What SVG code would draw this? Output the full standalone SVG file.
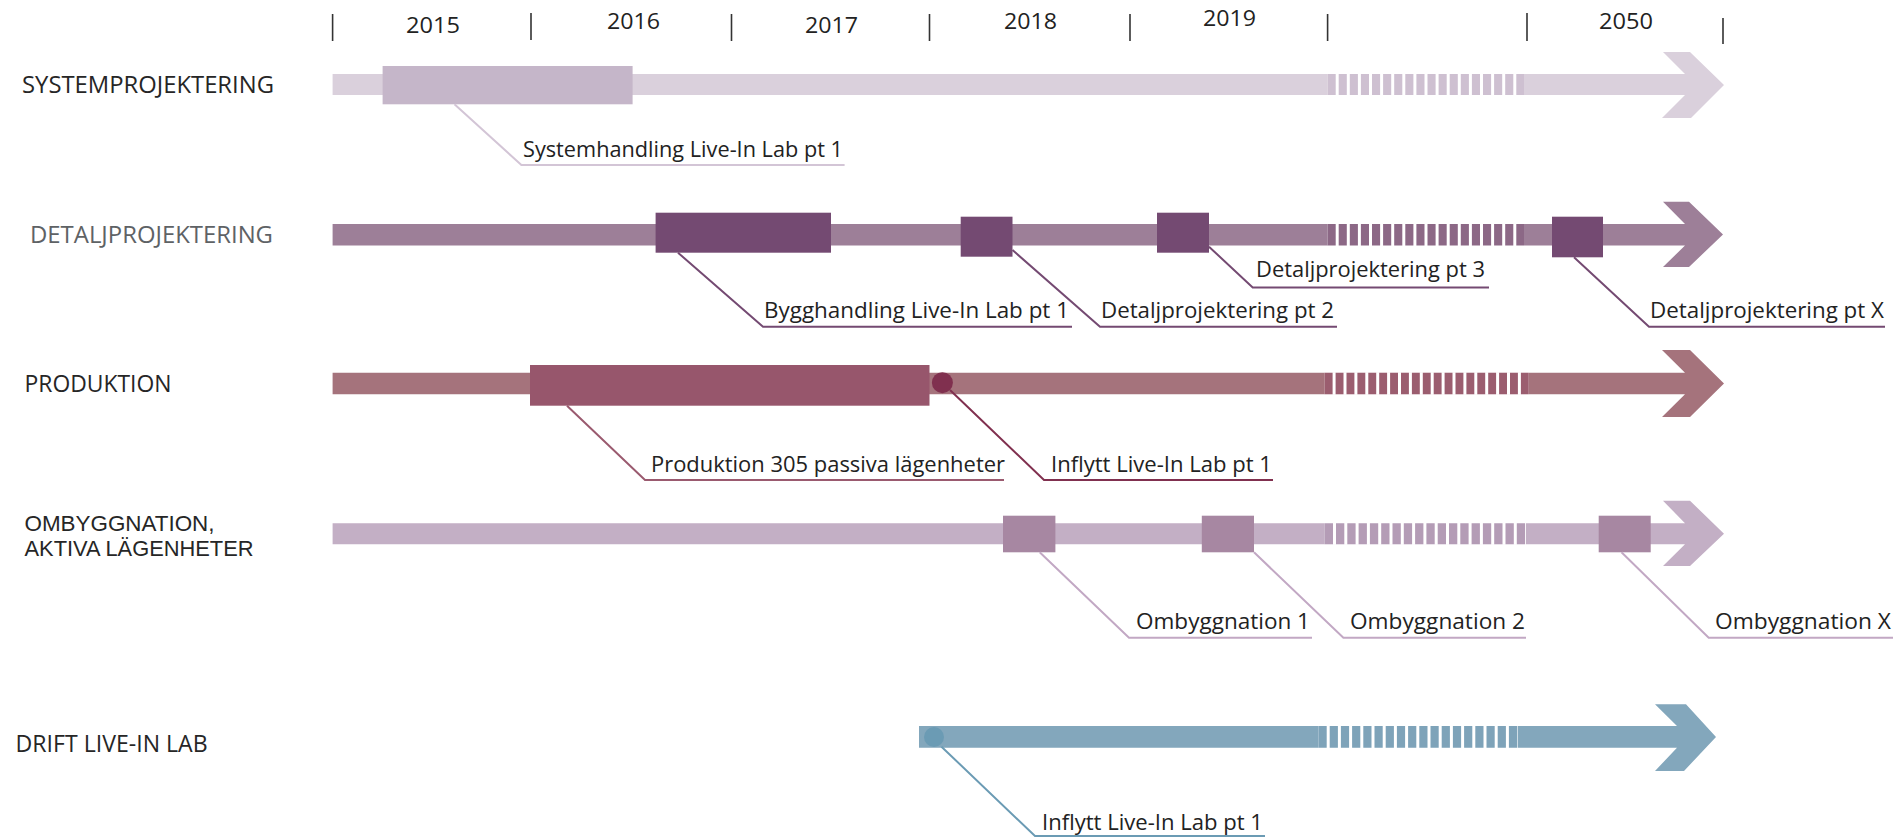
<svg xmlns="http://www.w3.org/2000/svg" width="1901" height="838" viewBox="0 0 1901 838">
<style>
text{font-family:"Open Sans","Liberation Sans",sans-serif;fill:#222}
.yr{font-size:21px}
.cat{font-size:24px;fill:#262626}
.cat2{font-family:"Liberation Sans",Arial,sans-serif;font-size:22px;fill:#262626}
.lbl{font-size:22px}
.tick{stroke:#333;stroke-width:1.6}
.ld{fill:none;stroke-width:2}
.gap{fill:#fff}
</style>
<rect width="1901" height="838" fill="#fff"/>
<g id="axis">
<line class="tick" x1="332.6" y1="14" x2="332.6" y2="41"/>
<line class="tick" x1="531" y1="13" x2="531" y2="40"/>
<line class="tick" x1="731.5" y1="14" x2="731.5" y2="41"/>
<line class="tick" x1="929.5" y1="14" x2="929.5" y2="41"/>
<line class="tick" x1="1130" y1="14" x2="1130" y2="41"/>
<line class="tick" x1="1327.6" y1="14" x2="1327.6" y2="41"/>
<line class="tick" x1="1527" y1="13" x2="1527" y2="41"/>
<line class="tick" x1="1723" y1="18" x2="1723" y2="44"/>
<text class="yr" x="406" y="33.3" textLength="54" lengthAdjust="spacingAndGlyphs">2015</text>
<text class="yr" x="607" y="29.3" textLength="53" lengthAdjust="spacingAndGlyphs">2016</text>
<text class="yr" x="805" y="33.3" textLength="53" lengthAdjust="spacingAndGlyphs">2017</text>
<text class="yr" x="1004" y="29.3" textLength="53" lengthAdjust="spacingAndGlyphs">2018</text>
<text class="yr" x="1203" y="26" textLength="53" lengthAdjust="spacingAndGlyphs">2019</text>
<text class="yr" x="1599" y="29.3" textLength="54" lengthAdjust="spacingAndGlyphs">2050</text>
</g>

<g id="row-systemprojektering">
<text class="cat" x="22" y="93" textLength="252" lengthAdjust="spacingAndGlyphs">SYSTEMPROJEKTERING</text>
<polygon fill="#dad0dc" points="332.6,74 1685,74 1663,52 1690,52 1724,85 1691,118 1662,118 1685,95 332.6,95"/>
<rect class="gap" x="1327.6" y="73.5" width="196.4" height="22"/>
<line x1="1327.6" y1="84.5" x2="1524" y2="84.5" stroke="#cec0d1" stroke-width="21" stroke-dasharray="8.1 3"/>
</g>
<g id="node-systemhandling">
<rect x="382.6" y="66" width="250" height="38.3" fill="#c5b6c9"/>
<text class="lbl" x="523" y="156.7" textLength="320" lengthAdjust="spacingAndGlyphs">Systemhandling Live-In Lab pt 1</text>
</g>

<g id="row-detaljprojektering">
<text class="cat" x="30" y="243" textLength="243" lengthAdjust="spacingAndGlyphs" style="fill:#5e6265">DETALJPROJEKTERING</text>
<polygon fill="#9d7f98" points="332.6,224 1685,224 1663,201.7 1689,201.7 1723,234.5 1689,267 1663,267 1685,245.5 332.6,245.5"/>
<rect class="gap" x="1327.6" y="223.5" width="196.4" height="22.5"/>
<line x1="1327.6" y1="234.75" x2="1524" y2="234.75" stroke="#8c6886" stroke-width="21.5" stroke-dasharray="8.1 3"/>
</g>
<g id="node-bygghandling">
<rect x="655.6" y="212.7" width="175.4" height="40" fill="#744a72"/>
<text class="lbl" x="764" y="318.3" textLength="305" lengthAdjust="spacingAndGlyphs">Bygghandling Live-In Lab pt 1</text>
</g>
<g id="node-detalj2">
<rect x="960.7" y="216.7" width="51.8" height="40" fill="#744a72"/>
<text class="lbl" x="1101" y="318.3" textLength="233" lengthAdjust="spacingAndGlyphs">Detaljprojektering pt 2</text>
</g>
<g id="node-detalj3">
<rect x="1157" y="212.7" width="52" height="40" fill="#744a72"/>
<text class="lbl" x="1256" y="276.7" textLength="229" lengthAdjust="spacingAndGlyphs">Detaljprojektering pt 3</text>
</g>
<g id="node-detaljX">
<rect x="1552" y="216.7" width="51" height="40.6" fill="#744a72"/>
<text class="lbl" x="1650" y="318.3" textLength="234" lengthAdjust="spacingAndGlyphs">Detaljprojektering pt X</text>
</g>

<g id="row-produktion">
<text class="cat" x="24.5" y="392" textLength="147" lengthAdjust="spacingAndGlyphs">PRODUKTION</text>
<polygon fill="#a5737c" points="332.6,372.7 1685,372.7 1662,350 1690,350 1724,383.5 1690,417 1662,417 1685,394.3 332.6,394.3"/>
<rect class="gap" x="1324.7" y="372.2" width="204.3" height="22.6"/>
<line x1="1324.7" y1="383.5" x2="1529" y2="383.5" stroke="#9b5d6f" stroke-width="21.6" stroke-dasharray="7.9 3"/>
</g>
<g id="node-produktion305">
<rect x="530" y="365" width="399.5" height="40.7" fill="#97566c"/>
<text class="lbl" x="651" y="472.3" textLength="354" lengthAdjust="spacingAndGlyphs">Produktion 305 passiva lägenheter</text>
</g>
<g id="node-inflytt-prod">
<circle cx="942.4" cy="382.7" r="10.5" fill="#80304f"/>
<text class="lbl" x="1051" y="472.3" textLength="221" lengthAdjust="spacingAndGlyphs">Inflytt Live-In Lab pt 1</text>
</g>

<g id="row-ombyggnation">
<text class="cat2"><tspan x="24.5" y="531" textLength="190" lengthAdjust="spacingAndGlyphs">OMBYGGNATION,</tspan><tspan x="24.5" y="556" textLength="229" lengthAdjust="spacingAndGlyphs">AKTIVA LÄGENHETER</tspan></text>
<polygon fill="#c3afc5" points="332.6,523.3 1685,523.3 1663,500.7 1690,500.7 1724,533.8 1690,566 1663,566 1685,544.3 332.6,544.3"/>
<rect class="gap" x="1324.7" y="522.8" width="201.3" height="22"/>
<line x1="1324.7" y1="533.8" x2="1526" y2="533.8" stroke="#b49cb6" stroke-width="21" stroke-dasharray="8.3 3"/>
</g>
<g id="node-ombyggnation1">
<rect x="1003" y="515.7" width="52.4" height="36.6" fill="#a787a2"/>
<text class="lbl" x="1136" y="629.3" textLength="174" lengthAdjust="spacingAndGlyphs">Ombyggnation 1</text>
</g>
<g id="node-ombyggnation2">
<rect x="1201.8" y="515.7" width="52.2" height="36.6" fill="#a787a2"/>
<text class="lbl" x="1350" y="629.3" textLength="175" lengthAdjust="spacingAndGlyphs">Ombyggnation 2</text>
</g>
<g id="node-ombyggnationX">
<rect x="1598.7" y="515.7" width="52" height="36.6" fill="#a787a2"/>
<text class="lbl" x="1715" y="629.3" textLength="176" lengthAdjust="spacingAndGlyphs">Ombyggnation X</text>
</g>

<g id="row-drift">
<text class="cat" x="15.6" y="752" textLength="192" lengthAdjust="spacingAndGlyphs">DRIFT LIVE-IN LAB</text>
<polygon fill="#83a7bc" points="919,726 1677,726 1655,704.3 1686,704.3 1716,737 1684,771 1655,771 1677,747.7 919,747.7"/>
<rect class="gap" x="1318.5" y="725.5" width="199.2" height="22.7"/>
<line x1="1318.5" y1="736.85" x2="1517.7" y2="736.85" stroke="#7ea3b9" stroke-width="21.7" stroke-dasharray="8.2 3"/>
</g>
<g id="node-inflytt-drift">
<circle cx="934" cy="737" r="10" fill="#6b9bb4"/>
<text class="lbl" x="1042" y="830" textLength="221" lengthAdjust="spacingAndGlyphs">Inflytt Live-In Lab pt 1</text>
</g>

<g id="connectors">
<polyline class="ld" stroke="#d3c5d6" points="454.5,104.3 521.4,165 844.6,165"/>
<polyline class="ld" stroke="#744a72" points="678,252.7 763,326.7 1072,326.7"/>
<polyline class="ld" stroke="#744a72" points="1012.5,250 1100,326.7 1337,326.7"/>
<polyline class="ld" stroke="#744a72" points="1209,246.7 1252.7,287.5 1489,287.5"/>
<polyline class="ld" stroke="#744a72" points="1574,257.3 1649,326.7 1885,326.7"/>
<polyline class="ld" stroke="#9a5a6f" points="567,405.7 645,480 1004,480"/>
<polyline class="ld" stroke="#80304f" points="950,390 1044,480 1273,480"/>
<polyline class="ld" stroke="#c2a8c4" points="1039.7,552.3 1129,637.7 1312,637.7"/>
<polyline class="ld" stroke="#c2a8c4" points="1254,552.3 1343.4,637.7 1526,637.7"/>
<polyline class="ld" stroke="#c2a8c4" points="1621.5,552.3 1708.7,637.7 1893,637.7"/>
<polyline class="ld" stroke="#6b9bb4" points="941.5,746.7 1035,836 1265,836"/>
</g>
</svg>
